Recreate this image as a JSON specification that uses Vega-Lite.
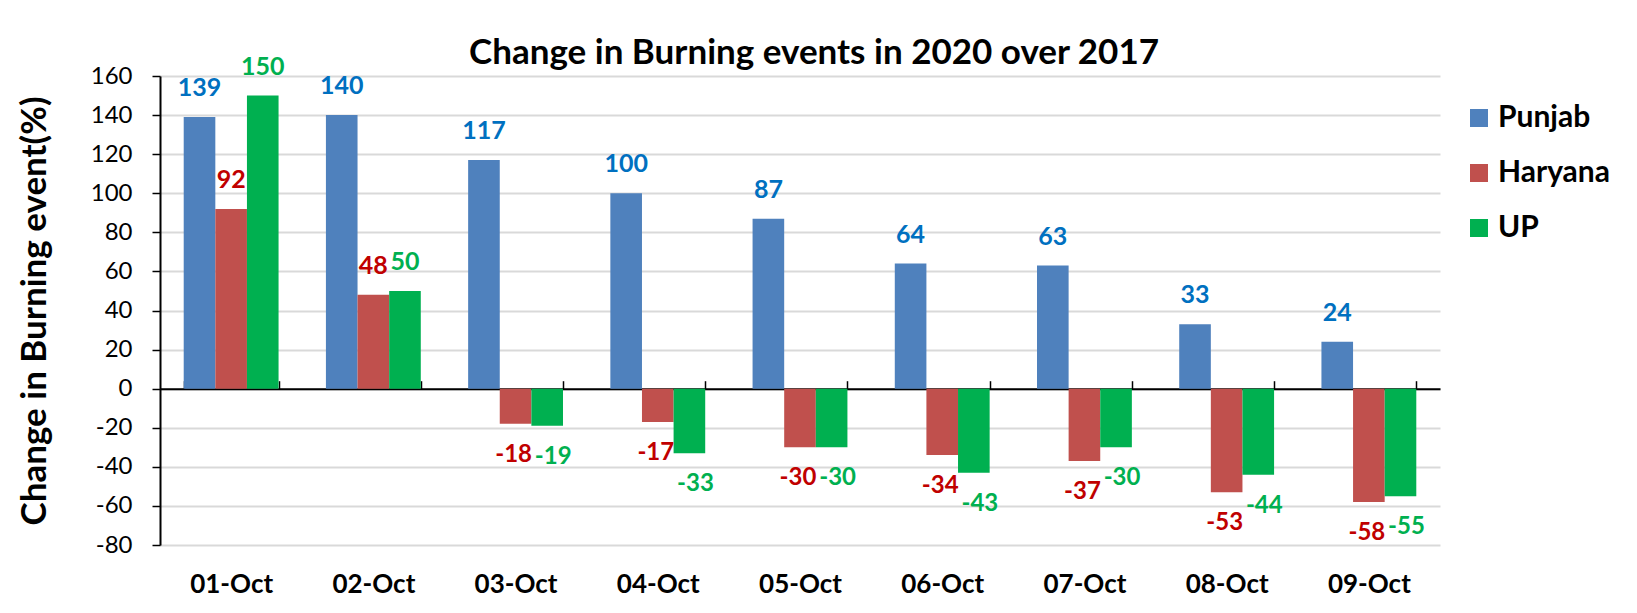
{
  "$schema": "https://vega.github.io/schema/vega-lite/v6.json",
  "width": 1280,
  "height": 469,
  "autosize": {"type": "none"},
  "padding": {"left": 160, "top": 76, "right": 197, "bottom": 68},
  "background": "white",
  "title": {"text": "Change in Burning events in 2020 over 2017", "font": "Lato", "fontSize": 35, "fontWeight": "bold", "color": "black", "baseline": "bottom", "offset": 16, "dy": 67, "dx": 14},
  "config": {"view": {"stroke": null}, "font": "Lato"},
  "data": {"values": [
    {"date": "01-Oct", "state": "Punjab", "value": 139},
    {"date": "01-Oct", "state": "Haryana", "value": 92},
    {"date": "01-Oct", "state": "UP", "value": 150},
    {"date": "02-Oct", "state": "Punjab", "value": 140},
    {"date": "02-Oct", "state": "Haryana", "value": 48},
    {"date": "02-Oct", "state": "UP", "value": 50},
    {"date": "03-Oct", "state": "Punjab", "value": 117},
    {"date": "03-Oct", "state": "Haryana", "value": -18},
    {"date": "03-Oct", "state": "UP", "value": -19},
    {"date": "04-Oct", "state": "Punjab", "value": 100},
    {"date": "04-Oct", "state": "Haryana", "value": -17},
    {"date": "04-Oct", "state": "UP", "value": -33},
    {"date": "05-Oct", "state": "Punjab", "value": 87},
    {"date": "05-Oct", "state": "Haryana", "value": -30},
    {"date": "05-Oct", "state": "UP", "value": -30},
    {"date": "06-Oct", "state": "Punjab", "value": 64},
    {"date": "06-Oct", "state": "Haryana", "value": -34},
    {"date": "06-Oct", "state": "UP", "value": -43},
    {"date": "07-Oct", "state": "Punjab", "value": 63},
    {"date": "07-Oct", "state": "Haryana", "value": -37},
    {"date": "07-Oct", "state": "UP", "value": -30},
    {"date": "08-Oct", "state": "Punjab", "value": 33},
    {"date": "08-Oct", "state": "Haryana", "value": -53},
    {"date": "08-Oct", "state": "UP", "value": -44},
    {"date": "09-Oct", "state": "Punjab", "value": 24},
    {"date": "09-Oct", "state": "Haryana", "value": -58},
    {"date": "09-Oct", "state": "UP", "value": -55}
  ]},
  "encoding": {
    "x": {"field": "date", "type": "nominal", "sort": null,
      "scale": {"paddingInner": 0.333, "paddingOuter": 0.1667},
      "axis": {"title": null, "labelAngle": 0, "labelFont": "Lato", "labelFontSize": 26, "labelFontWeight": "bold", "labelColor": "black",
        "domainColor": "black", "domainWidth": 2, "tickColor": "black", "tickWidth": 1.5, "tickBand": "extent", "tickSize": -8,
        "offset": -156.3, "labelPadding": 191, "grid": false}},
    "xOffset": {"field": "state", "type": "nominal", "sort": ["Punjab", "Haryana", "UP"]},
    "y": {"field": "value", "type": "quantitative",
      "scale": {"domain": [-80, 160], "nice": false, "zero": false},
      "axis": {"title": "Change in Burning event(%)", "titleFont": "Lato", "titleFontSize": 35, "titleFontWeight": "bold", "titleColor": "black", "titlePadding": 38,
        "values": [-80, -60, -40, -20, 0, 20, 40, 60, 80, 100, 120, 140, 160],
        "labelExpr": "datum.value + ''",
        "labelFont": "Lato", "labelFontSize": 24, "labelColor": "black", "labelPadding": 20,
        "domainColor": "black", "domainWidth": 2, "tickColor": "black", "tickWidth": 1.5, "tickSize": 8,
        "grid": true, "gridColor": "#D9D9D9", "gridWidth": 2}}
  },
  "layer": [
    {
      "mark": {"type": "bar"},
      "encoding": {
        "color": {"field": "state", "type": "nominal",
          "scale": {"domain": ["Punjab", "Haryana", "UP"], "range": ["#4F81BD", "#C0504D", "#00B050"]},
          "legend": {"title": null, "orient": "none", "legendX": 1304, "legendY": 27, "symbolType": "square", "symbolSize": 324,
            "symbolStrokeWidth": 0, "labelFont": "Lato", "labelFontSize": 30, "labelFontWeight": "bold", "labelColor": "black", "rowPadding": 25, "labelOffset": 4}}
      }
    },
    {
      "transform": [{"filter": "datum.value >= 0"}],
      "mark": {"type": "text", "font": "Lato", "fontSize": 25, "fontWeight": "bold", "baseline": "middle", "dy": -29},
      "encoding": {
        "text": {"field": "value", "type": "nominal"},
        "color": {"field": "state", "type": "nominal",
          "scale": {"domain": ["Punjab", "Haryana", "UP"], "range": ["#0070C0", "#C00000", "#00B050"]}, "legend": null}
      }
    },
    {
      "transform": [{"filter": "datum.value < 0 && datum.state == 'Haryana'"}],
      "mark": {"type": "text", "font": "Lato", "fontSize": 24, "fontWeight": "bold", "baseline": "middle", "dy": 31, "dx": -2},
      "encoding": {
        "text": {"field": "value", "type": "nominal"},
        "color": {"field": "state", "type": "nominal",
          "scale": {"domain": ["Punjab", "Haryana", "UP"], "range": ["#0070C0", "#C00000", "#00B050"]}, "legend": null}
      }
    },
    {
      "transform": [{"filter": "datum.value < 0 && datum.state == 'UP'"}],
      "mark": {"type": "text", "font": "Lato", "fontSize": 24, "fontWeight": "bold", "baseline": "middle", "dy": 31, "dx": 6},
      "encoding": {
        "text": {"field": "value", "type": "nominal"},
        "color": {"field": "state", "type": "nominal",
          "scale": {"domain": ["Punjab", "Haryana", "UP"], "range": ["#0070C0", "#C00000", "#00B050"]}, "legend": null}
      }
    }
  ],
  "resolve": {"scale": {"color": "independent"}}
}
